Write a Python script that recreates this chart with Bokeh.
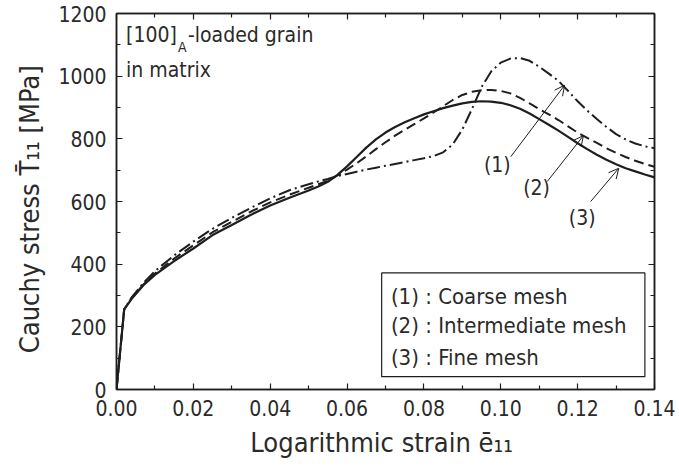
from bokeh.plotting import figure
from bokeh.models import (LinearAxis, FixedTicker, NumeralTickFormatter, Label,
                          Arrow, OpenHead, BoxAnnotation, Range1d)
from bokeh.embed import file_html
from bokeh.resources import INLINE

# ---------------- data ----------------
strain = [0.0, 0.002, 0.004, 0.007, 0.01, 0.015, 0.02, 0.025, 0.03, 0.035,
          0.04, 0.045, 0.05, 0.0525, 0.055, 0.0575, 0.06, 0.0625, 0.065, 0.0675,
          0.07, 0.0725, 0.075, 0.0775, 0.08, 0.0825, 0.085, 0.0875, 0.09, 0.0925,
          0.095, 0.0975, 0.10, 0.1025, 0.105, 0.1075, 0.11, 0.1125, 0.115, 0.1175,
          0.12, 0.1225, 0.125, 0.1275, 0.13, 0.1325, 0.135, 0.1375, 0.14]

# (1) coarse mesh
coarse = [0, 256, 295, 340, 378, 428, 472, 513, 548, 580,
          610, 636, 655, 664, 672, 681, 688, 695, 702, 708,
          714, 720, 726, 732, 738, 745, 757, 782, 830, 895,
          965, 1015, 1043, 1056, 1058, 1049, 1030, 1008, 985, 953,
          920, 890, 863, 838, 815, 798, 785, 776, 770]

# (2) intermediate mesh
intermediate = [0, 256, 293, 335, 370, 418, 460, 502, 535, 568,
                597, 622, 644, 655, 666, 683, 702, 722, 744, 767,
                789, 810, 829, 847, 865, 884, 904, 924, 940, 950,
                955, 956, 953, 945, 931, 913, 895, 878, 860, 840,
                820, 803, 787, 770, 755, 742, 730, 720, 711]

# (3) fine mesh
fine = [0, 256, 290, 333, 366, 410, 450, 493, 525, 558,
        587, 612, 635, 648, 663, 685, 712, 742, 772, 798,
        820, 838, 853, 866, 878, 888, 898, 906, 913, 918,
        920, 919, 915, 907, 896, 881, 863, 845, 826, 806,
        786, 767, 749, 733, 719, 706, 696, 686, 677]

x_ticks = [0.00, 0.02, 0.04, 0.06, 0.08, 0.10, 0.12, 0.14]
x_minor = [0.01, 0.03, 0.05, 0.07, 0.09, 0.11, 0.13]
y_ticks = [0, 200, 400, 600, 800, 1000, 1200]
y_minor = [100, 300, 500, 700, 900, 1100]

legend_items = ["(1) : Coarse mesh", "(2) : Intermediate mesh", "(3) : Fine mesh"]
curve_tags = ["(1)", "(2)", "(3)"]

# ---------------- styles ----------------
FONT = "DejaVu Sans Condensed"
INK = "#1e1e1e"
TXT = "#2a2a2a"

p = figure(width=679, height=470, output_backend="svg", toolbar_location=None,
           x_range=Range1d(0, 0.14), y_range=Range1d(0, 1200),
           min_border_left=116, min_border_right=25,
           min_border_top=13, min_border_bottom=81)
p.xgrid.visible = False
p.ygrid.visible = False
p.outline_line_color = INK
p.outline_line_width = 1.5
p.background_fill_color = "white"
p.border_fill_color = "white"

xt = FixedTicker(ticks=x_ticks, minor_ticks=x_minor)
yt = FixedTicker(ticks=y_ticks, minor_ticks=y_minor)


def style_axis(ax, show_labels):
    ax.axis_line_color = INK
    ax.axis_line_width = 1.5
    ax.major_tick_in = 6
    ax.major_tick_out = 0
    ax.minor_tick_in = 4
    ax.minor_tick_out = 0
    ax.major_tick_line_color = INK
    ax.minor_tick_line_color = INK
    ax.major_tick_line_width = 1.2
    ax.minor_tick_line_width = 1.2
    if show_labels:
        ax.major_label_text_font = FONT
        ax.major_label_text_font_size = "21px"
        ax.major_label_text_color = TXT
        ax.axis_label_text_font = FONT
        ax.axis_label_text_font_size = "27px"
        ax.axis_label_text_font_style = "normal"
        ax.axis_label_text_color = TXT
    else:
        ax.major_label_text_color = None
        ax.major_label_text_font_size = "1px"
        ax.major_label_standoff = 0


xa = p.xaxis[0]
xa.ticker = xt
xa.formatter = NumeralTickFormatter(format="0.00")
style_axis(xa, True)
xa.major_label_standoff = 10
xa.axis_label = "Logarithmic strain  \u0113\u2081\u2081"
xa.axis_label_standoff = 8

ya = p.yaxis[0]
ya.ticker = yt
ya.formatter = NumeralTickFormatter(format="0")
style_axis(ya, True)
ya.major_label_standoff = 10
ya.axis_label = "Cauchy stress  T\u0304\u2081\u2081  [MPa]"
ya.axis_label_standoff = 10

top = LinearAxis(ticker=xt)
style_axis(top, False)
p.add_layout(top, "above")
right = LinearAxis(ticker=yt)
style_axis(right, False)
p.add_layout(right, "right")

# ---------------- curves ----------------
p.line(strain, coarse, line_color=INK, line_width=2, line_dash="13 4 2 4")
p.line(strain, intermediate, line_color=INK, line_width=2, line_dash="10 5")
p.line(strain, fine, line_color=INK, line_width=2.2)

# ---------------- arrows + tags ----------------
arrows = [((0.1026, 743), (0.1166, 971)),
          ((0.1121, 664), (0.1215, 810)),
          ((0.1234, 600), (0.1307, 706))]
tag_pos = [(0.0991, 717), (0.1093, 642), (0.1212, 547)]
for (s, e), tag, (tx, ty) in zip(arrows, curve_tags, tag_pos):
    p.add_layout(Arrow(end=OpenHead(size=10, line_width=1, line_color=INK),
                       x_start=s[0], y_start=s[1], x_end=e[0], y_end=e[1],
                       line_color=INK, line_width=1))
    p.add_layout(Label(x=tx, y=ty, text=tag, text_font=FONT, text_font_size="21px",
                       text_color=TXT, text_align="center", text_baseline="middle"))

# ---------------- legend box ----------------
p.add_layout(BoxAnnotation(left=0.069, right=0.1375, bottom=41, top=372,
                           fill_color="white", fill_alpha=1.0,
                           line_color=INK, line_alpha=1.0, line_width=1.2))
for txt, ly in zip(legend_items, [298, 203, 103]):
    p.add_layout(Label(x=0.0714, y=ly, text=txt, text_font=FONT, text_font_size="22px",
                       text_color=TXT, text_align="left", text_baseline="middle"))

# ---------------- title annotation ----------------
p.add_layout(Label(x=0.0025, y=1130, text="[100]", text_font=FONT, text_font_size="21px",
                   text_color=TXT, text_align="left", text_baseline="middle"))
p.add_layout(Label(x=0.0160, y=1093, text="A", text_font=FONT, text_font_size="14px",
                   text_color=TXT, text_align="left", text_baseline="middle"))
p.add_layout(Label(x=0.0186, y=1130, text="-loaded grain", text_font=FONT, text_font_size="21px",
                   text_color=TXT, text_align="left", text_baseline="middle"))
p.add_layout(Label(x=0.0025, y=1019, text="in matrix", text_font=FONT, text_font_size="21px",
                   text_color=TXT, text_align="left", text_baseline="middle"))

open("out.html", "w").write(file_html(p, INLINE))
